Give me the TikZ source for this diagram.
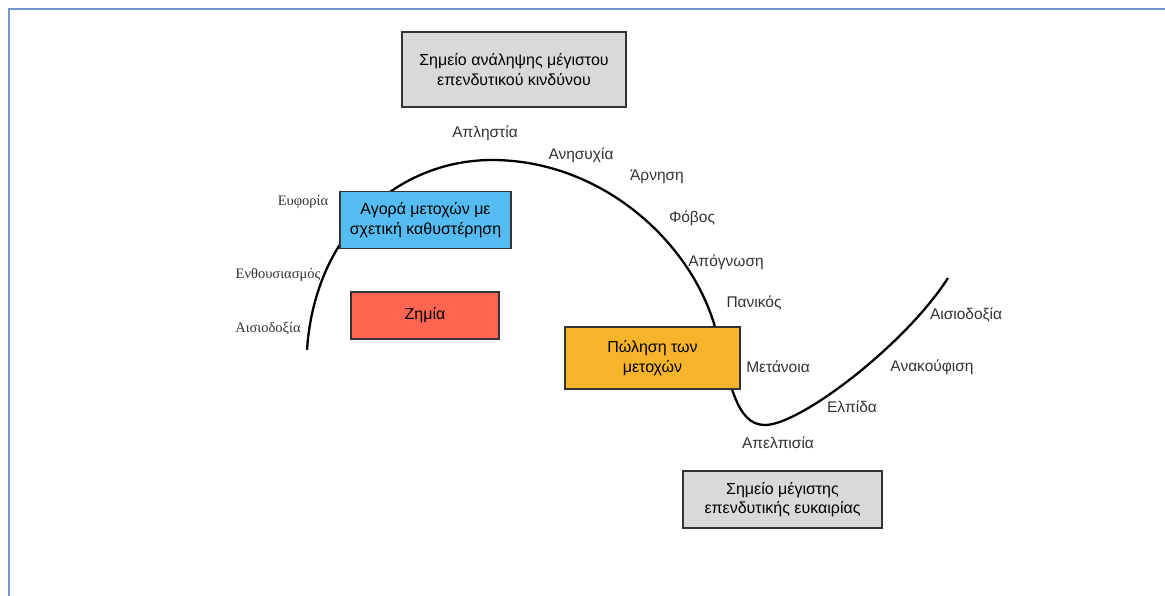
\documentclass[tikz,border=0pt]{standalone}
\usepackage{fontspec}
\setmainfont{Liberation Sans}
\newfontfamily\serifgr{Liberation Serif}
\definecolor{frameblue}{HTML}{7397CB}
\definecolor{boxgrey}{HTML}{D9D9D9}
\definecolor{boxblue}{HTML}{55BCF2}
\definecolor{boxred}{HTML}{FF6451}
\definecolor{boxorange}{HTML}{F6B42A}
\definecolor{labelgrey}{HTML}{333333}
\begin{document}
\begin{tikzpicture}[x=1pt,y=-1pt,
  box/.style={draw=black!80,line width=1.3pt,align=center,inner sep=0pt,
    font=\fontsize{16}{19.5}\selectfont},
  lbl/.style={text=labelgrey,inner sep=0pt,font=\fontsize{15.5}{18}\selectfont},
  slbl/.style={text=labelgrey,inner sep=0pt,font=\serifgr\fontsize{14.5}{17}\selectfont},
  curve/.style={line width=2.3pt,black}
]
\useasboundingbox (0,0) rectangle (1165,596);
\fill[white] (0,0) rectangle (1165,596);
\draw[frameblue,line width=2.2pt] (9,596) -- (9,9) -- (1165,9);

% emotional cycle curve
\coordinate (c0) at (307,350);
\coordinate (peak) at (492,160);
\coordinate (c2) at (715,327);
\coordinate (low) at (765,425);
\coordinate (c4) at (948,278);
\draw[curve] (c0) .. controls (315,230) and (400,160) .. (peak)
  .. controls (600,160) and (690,240) .. (c2)
  .. controls (730,380) and (735,425) .. (low)
  .. controls (800,425) and (905,345) .. (c4);

% boxes
\node[box,fill=boxgrey,minimum width=224pt,minimum height=75pt] (risk) at (514,69.5)
  {Σημείο ανάληψης μέγιστου\\επενδυτικού κινδύνου};
\node[box,fill=boxblue,minimum width=171pt,minimum height=57pt] (buy) at (425.5,220)
  {Αγορά μετοχών με\\σχετική καθυστέρηση};
\node[box,fill=boxred,minimum width=148pt,minimum height=47pt] (loss) at (425,315.5)
  {Ζημία};
\node[box,fill=boxorange,minimum width=175pt,minimum height=62pt] (sell) at (652.5,358)
  {Πώληση των\\μετοχών};
\node[box,fill=boxgrey,minimum width=199pt,minimum height=57pt] (opp) at (782.5,499.5)
  {Σημείο μέγιστης\\επενδυτικής ευκαιρίας};

% labels
\node[lbl] (l1) at (485,133) {Απληστία};
\node[lbl] (l2) at (581,155) {Ανησυχία};
\node[lbl] (l3) at (657,177) {Άρνηση};
\node[lbl] (l4) at (692,218) {Φόβος};
\node[lbl] (l5) at (726,262) {Απόγνωση};
\node[lbl] (l6) at (754,303) {Πανικός};
\node[lbl] (l7) at (778,367) {Μετάνοια};
\node[lbl] (l8) at (778,443) {Απελπισία};
\node[lbl] (l9) at (852,407) {Ελπίδα};
\node[lbl] (l10) at (932,367) {Ανακούφιση};
\node[lbl] (l11) at (966,315) {Αισιοδοξία};
\node[slbl] (s1) at (303,202) {Ευφορία};
\node[slbl] (s2) at (278,275) {Ενθουσιασμός};
\node[slbl] (s3) at (268,329) {Αισιοδοξία};
\end{tikzpicture}
\end{document}
